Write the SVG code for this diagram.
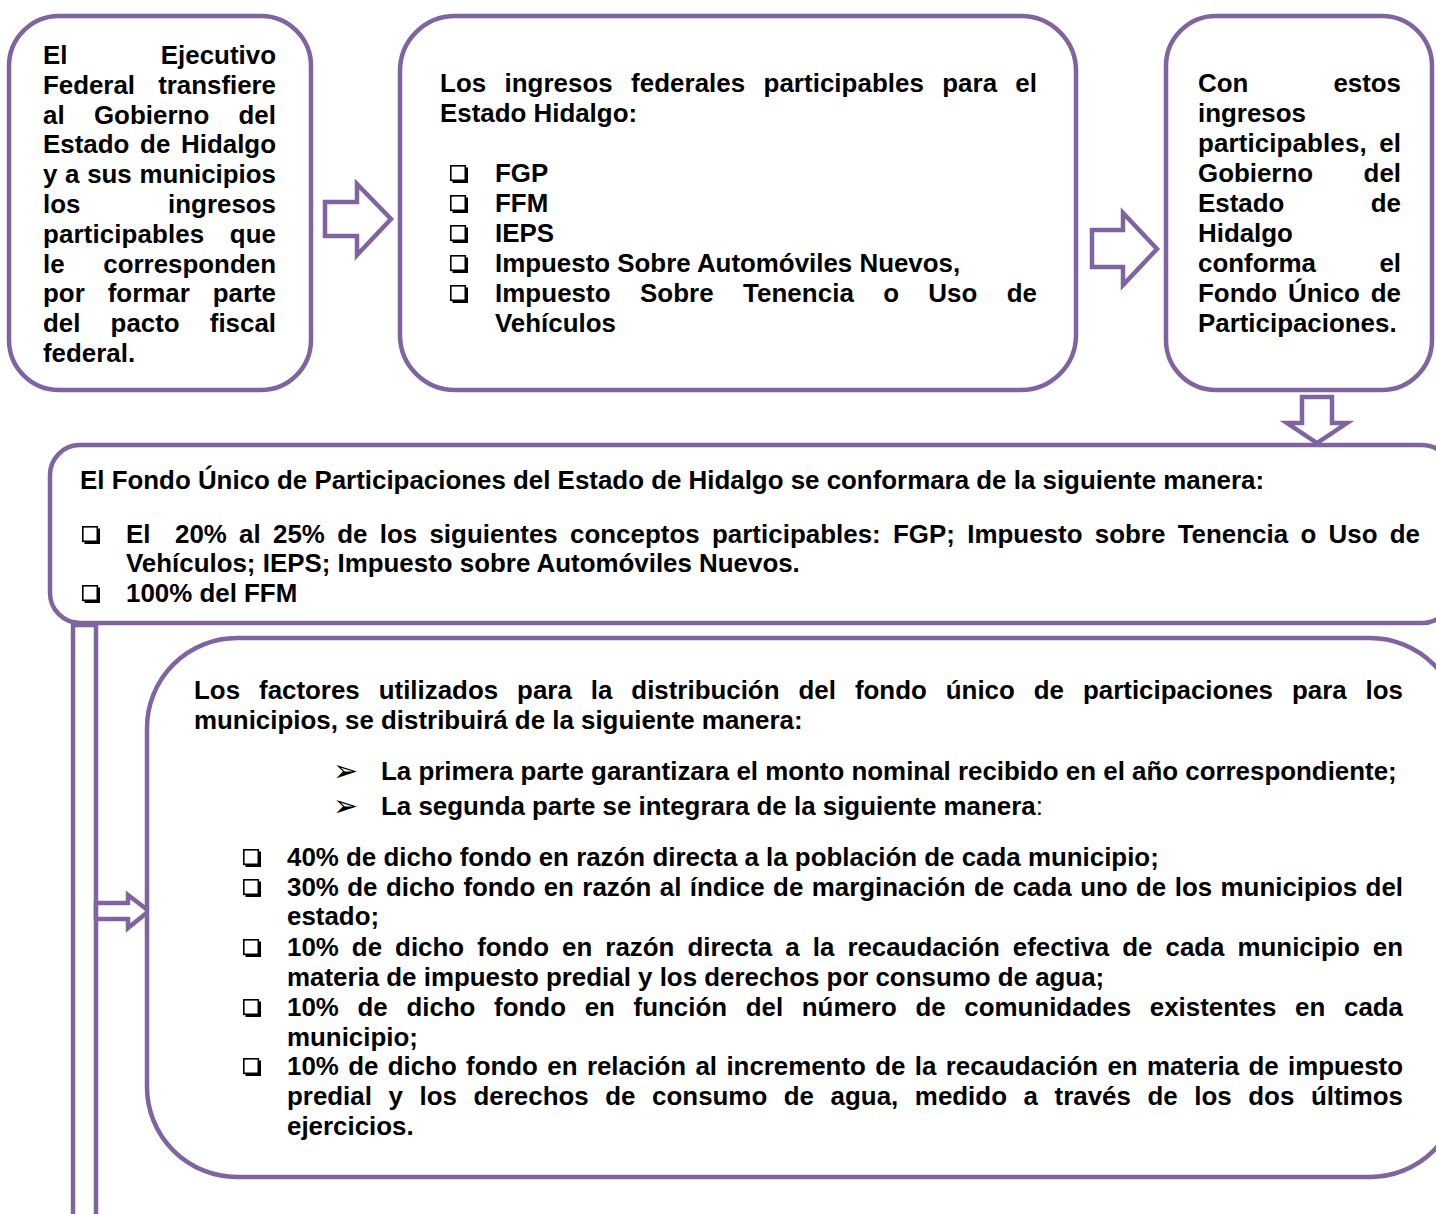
<svg xmlns="http://www.w3.org/2000/svg" xmlns:xlink="http://www.w3.org/1999/xlink" width="1436" height="1214" viewBox="0 0 1436 1214">
<style>
.box{fill:#fff;stroke:#8064A2;stroke-width:4.5}
.arr{fill:#fff;stroke:#8064A2;stroke-width:4.5;stroke-linejoin:miter}
.t{font-family:"Liberation Sans",Arial,sans-serif;font-weight:bold;font-size:25.9px;fill:#000}
.sym{font-family:"DejaVu Sans",sans-serif;font-size:30px;fill:#000}
</style>
<defs>
<g id="cb"><rect x="0.8" y="0.8" width="14.5" height="14.5" fill="#fff" stroke="#000" stroke-width="1.6"/><path d="M2.5 16.7 H16.7 V2.5" fill="none" stroke="#000" stroke-width="2.6"/></g>
</defs>
<rect width="1436" height="1214" fill="#fff"/>

<g id="connectors">
<polygon class="arr" points="325,202 357,202 357,184 391,219 357,255 357,236 325,236"/>
<polygon class="arr" points="1092,230 1123,230 1123,213 1157,249 1123,285 1123,267 1092,267"/>
<polygon class="arr" points="1302,397 1332,397 1332,423 1347,423 1317,443 1287,423 1302,423"/>
<rect class="arr" x="73" y="625" width="23" height="610"/>
<polygon class="arr" points="96,903 128,903 128,895 149,911 128,928 128,919 96,919"/>
</g>

<g id="node1">
<rect class="box" x="9" y="16" width="302" height="374" rx="50"/>
<text class="t" x="43" y="64" word-spacing="86" textLength="233" lengthAdjust="spacing">El Ejecutivo</text>
<text class="t" x="43" y="93.8" word-spacing="16" textLength="233" lengthAdjust="spacing">Federal transfiere</text>
<text class="t" x="43" y="123.6" word-spacing="22" textLength="233" lengthAdjust="spacing">al Gobierno del</text>
<text class="t" x="43" y="153.4" word-spacing="3.6" textLength="233" lengthAdjust="spacing">Estado de Hidalgo</text>
<text class="t" x="43" y="183.2" word-spacing="0.5" textLength="233" lengthAdjust="spacing">y a sus municipios</text>
<text class="t" x="43" y="213" word-spacing="80.5" textLength="233" lengthAdjust="spacing">los ingresos</text>
<text class="t" x="43" y="242.8" word-spacing="18" textLength="233" lengthAdjust="spacing">participables que</text>
<text class="t" x="43" y="272.6" word-spacing="31.5" textLength="233" lengthAdjust="spacing">le corresponden</text>
<text class="t" x="43" y="302.4" word-spacing="15.8" textLength="233" lengthAdjust="spacing">por formar parte</text>
<text class="t" x="43" y="332.2" word-spacing="23" textLength="233" lengthAdjust="spacing">del pacto fiscal</text>
<text class="t" x="43" y="362">federal.</text>
</g>

<g id="node2">
<rect class="box" x="400" y="16" width="676" height="374" rx="55"/>
<text class="t" x="440" y="92" word-spacing="11" textLength="597" lengthAdjust="spacing">Los ingresos federales participables para el</text>
<text class="t" x="440" y="122">Estado Hidalgo:</text>
<use xlink:href="#cb" x="450" y="165"/>
<use xlink:href="#cb" x="450" y="195"/>
<use xlink:href="#cb" x="450" y="225"/>
<use xlink:href="#cb" x="450" y="255"/>
<use xlink:href="#cb" x="450" y="285"/>
<text class="t" x="495" y="182">FGP</text>
<text class="t" x="495" y="212">FFM</text>
<text class="t" x="495" y="242">IEPS</text>
<text class="t" x="495" y="272">Impuesto Sobre Automóviles Nuevos,</text>
<text class="t" x="495" y="302" word-spacing="22" textLength="542" lengthAdjust="spacing">Impuesto Sobre Tenencia o Uso de</text>
<text class="t" x="495" y="332">Vehículos</text>
</g>

<g id="node3">
<rect class="box" x="1166" y="16" width="266" height="374" rx="50"/>
<text class="t" x="1198" y="92" word-spacing="78" textLength="203" lengthAdjust="spacing">Con estos</text>
<text class="t" x="1198" y="122">ingresos</text>
<text class="t" x="1198" y="152" word-spacing="5.2" textLength="203" lengthAdjust="spacing">participables, el</text>
<text class="t" x="1198" y="182" word-spacing="43.3" textLength="203" lengthAdjust="spacing">Gobierno del</text>
<text class="t" x="1198" y="212" word-spacing="79.3" textLength="203" lengthAdjust="spacing">Estado de</text>
<text class="t" x="1198" y="242">Hidalgo</text>
<text class="t" x="1198" y="272" word-spacing="56.2" textLength="203" lengthAdjust="spacing">conforma el</text>
<text class="t" x="1198" y="302" word-spacing="3.7" textLength="203" lengthAdjust="spacing">Fondo Único de</text>
<text class="t" x="1198" y="332">Participaciones.</text>
</g>

<g id="node4">
<rect class="box" x="50" y="445" width="1402" height="178" rx="30"/>
<text class="t" x="80" y="489">El Fondo Único de Participaciones del Estado de Hidalgo se conformara de la siguiente manera:</text>
<use xlink:href="#cb" x="82" y="526"/>
<use xlink:href="#cb" x="82" y="585"/>
<text class="t" x="126" y="543" word-spacing="5" textLength="1294" lengthAdjust="spacing" xml:space="preserve">El  20% al 25% de los siguientes conceptos participables: FGP; Impuesto sobre Tenencia o Uso de</text>
<text class="t" x="126" y="572">Vehículos; IEPS; Impuesto sobre Automóviles Nuevos.</text>
<text class="t" x="126" y="602">100% del FFM</text>
</g>

<g id="node5">
<rect class="box" x="147" y="638" width="1313" height="539" rx="90"/>
<text class="t" x="194" y="699" word-spacing="11.8" textLength="1209" lengthAdjust="spacing">Los factores utilizados para la distribución del fondo único de participaciones para los</text>
<text class="t" x="194" y="729">municipios, se distribuirá de la siguiente manera:</text>
<text class="sym" x="333" y="781">➢</text>
<text class="sym" x="333" y="816">➢</text>
<text class="t" x="381" y="780">La primera parte garantizara el monto nominal recibido en el año correspondiente;</text>
<text class="t" x="381" y="815">La segunda parte se integrara de la siguiente manera<tspan font-weight="normal">:</tspan></text>
<use xlink:href="#cb" x="243" y="849"/>
<use xlink:href="#cb" x="243" y="879"/>
<use xlink:href="#cb" x="243" y="939"/>
<use xlink:href="#cb" x="243" y="999"/>
<use xlink:href="#cb" x="243" y="1058"/>
<text class="t" x="287" y="866">40% de dicho fondo en razón directa a la población de cada municipio;</text>
<text class="t" x="287" y="896" word-spacing="1.3" textLength="1116" lengthAdjust="spacing">30% de dicho fondo en razón al índice de marginación de cada uno de los municipios del</text>
<text class="t" x="287" y="925">estado;</text>
<text class="t" x="287" y="956" word-spacing="5.9" textLength="1116" lengthAdjust="spacing">10% de dicho fondo en razón directa a la recaudación efectiva de cada municipio en</text>
<text class="t" x="287" y="986">materia de impuesto predial y los derechos por consumo de agua;</text>
<text class="t" x="287" y="1016" word-spacing="11.5" textLength="1116" lengthAdjust="spacing">10% de dicho fondo en función del número de comunidades existentes en cada</text>
<text class="t" x="287" y="1046">municipio;</text>
<text class="t" x="287" y="1075" word-spacing="2.2" textLength="1116" lengthAdjust="spacing">10% de dicho fondo en relación al incremento de la recaudación en materia de impuesto</text>
<text class="t" x="287" y="1105" word-spacing="9.4" textLength="1116" lengthAdjust="spacing">predial y los derechos de consumo de agua, medido a través de los dos últimos</text>
<text class="t" x="287" y="1135">ejercicios.</text>
</g>
</svg>
